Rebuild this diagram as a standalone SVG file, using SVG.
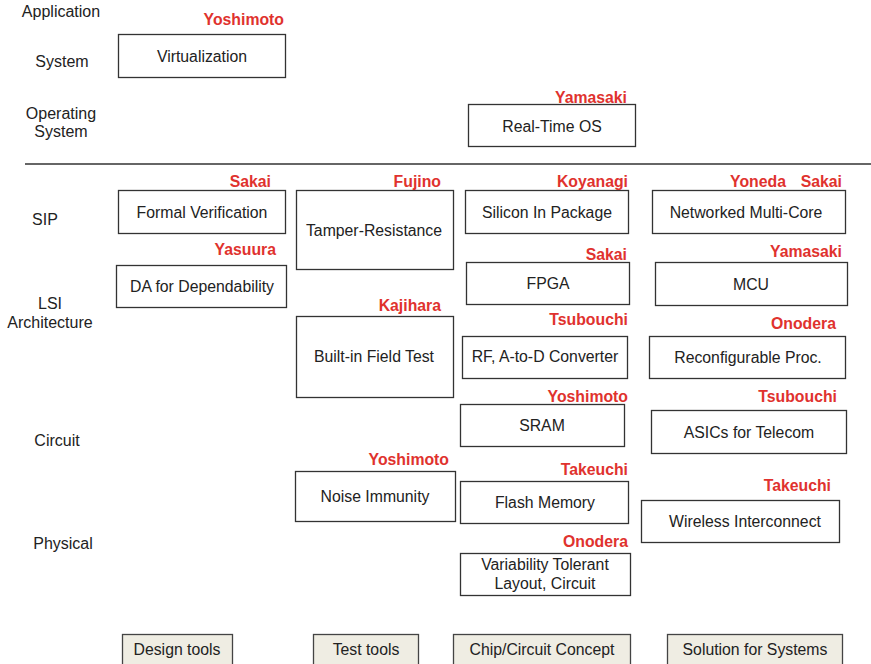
<svg xmlns="http://www.w3.org/2000/svg" width="871" height="664" viewBox="0 0 871 664">
  <style>
    text { font-family: "Liberation Sans", Arial, sans-serif; }
    .box { fill: #ffffff; stroke: #333333; stroke-width: 1.3; }
    .tab { fill: #efede3; stroke: #444444; stroke-width: 1.3; }
    .t { font-size: 15.8px; fill: #222222; text-anchor: middle; }
    .lvl { font-size: 16px; fill: #222222; text-anchor: middle; }
    .who { font-size: 15.8px; font-weight: bold; fill: #e0322e; text-anchor: end; }
  </style>
  <rect width="871" height="664" fill="#ffffff"/>

  <!-- abstraction levels -->
  <g id="levels">
    <text class="lvl" x="61" y="17">Application</text>
    <text class="lvl" x="62" y="67">System</text>
    <text class="lvl" x="61" y="119">Operating</text>
    <text class="lvl" x="61" y="137">System</text>
    <text class="lvl" x="45" y="225">SIP</text>
    <text class="lvl" x="50" y="309">LSI</text>
    <text class="lvl" x="50" y="328">Architecture</text>
    <text class="lvl" x="57" y="446">Circuit</text>
    <text class="lvl" x="63" y="549">Physical</text>
  </g>

  <!-- separator between software and hardware layers -->
  <g id="connectors">
    <line x1="25" y1="164" x2="871" y2="164" stroke="#333333" stroke-width="1.3"/>
  </g>

  <g id="virtualization">
    <rect class="box" x="118.5" y="34.5" width="167" height="43"/>
    <text class="t" x="202" y="62">Virtualization</text>
    <text class="who" x="284" y="25">Yoshimoto</text>
  </g>
  <g id="rtos">
    <rect class="box" x="468.5" y="104.5" width="167" height="42"/>
    <text class="t" x="552" y="132">Real-Time OS</text>
    <text class="who" x="627" y="103">Yamasaki</text>
  </g>

  <g id="formal-verification">
    <rect class="box" x="118.5" y="190.5" width="167" height="43"/>
    <text class="t" x="202" y="218">Formal Verification</text>
    <text class="who" x="271" y="187">Sakai</text>
  </g>
  <g id="tamper-resistance">
    <rect class="box" x="296.5" y="190.5" width="157" height="79"/>
    <text class="t" x="374" y="236">Tamper-Resistance</text>
    <text class="who" x="441" y="187">Fujino</text>
  </g>
  <g id="silicon-in-package">
    <rect class="box" x="465.5" y="190.5" width="163" height="43"/>
    <text class="t" x="547" y="218">Silicon In Package</text>
    <text class="who" x="628" y="187">Koyanagi</text>
  </g>
  <g id="networked-multicore">
    <rect class="box" x="652.5" y="190.5" width="193" height="43"/>
    <text class="t" x="746" y="218">Networked Multi-Core</text>
    <text class="who" x="786" y="187">Yoneda</text>
    <text class="who" x="842" y="187">Sakai</text>
  </g>

  <g id="da-dependability">
    <rect class="box" x="116.5" y="265.5" width="170" height="42"/>
    <text class="t" x="202" y="292">DA for Dependability</text>
    <text class="who" x="276" y="255">Yasuura</text>
  </g>
  <g id="fpga">
    <rect class="box" x="466.5" y="262.5" width="163" height="42"/>
    <text class="t" x="548" y="289">FPGA</text>
    <text class="who" x="627" y="260">Sakai</text>
  </g>
  <g id="mcu">
    <rect class="box" x="655.5" y="262.5" width="192" height="43"/>
    <text class="t" x="751" y="290">MCU</text>
    <text class="who" x="842" y="257">Yamasaki</text>
  </g>

  <g id="built-in-field-test">
    <rect class="box" x="296.5" y="316.5" width="157" height="81"/>
    <text class="t" x="374" y="362">Built-in Field Test</text>
    <text class="who" x="441" y="311">Kajihara</text>
  </g>
  <g id="rf-adc">
    <rect class="box" x="462.5" y="336.5" width="165" height="42"/>
    <text class="t" x="545" y="362">RF, A-to-D Converter</text>
    <text class="who" x="628" y="325">Tsubouchi</text>
  </g>
  <g id="reconfigurable">
    <rect class="box" x="649.5" y="336.5" width="196" height="42"/>
    <text class="t" x="748" y="363">Reconfigurable Proc.</text>
    <text class="who" x="836" y="329">Onodera</text>
  </g>

  <g id="sram">
    <rect class="box" x="460.5" y="404.5" width="164" height="42"/>
    <text class="t" x="542" y="431">SRAM</text>
    <text class="who" x="628" y="402">Yoshimoto</text>
  </g>
  <g id="asics-telecom">
    <rect class="box" x="651.5" y="410.5" width="195" height="43"/>
    <text class="t" x="749" y="438">ASICs for Telecom</text>
    <text class="who" x="837" y="402">Tsubouchi</text>
  </g>

  <g id="noise-immunity">
    <rect class="box" x="295.5" y="471.5" width="160" height="50"/>
    <text class="t" x="375" y="502">Noise Immunity</text>
    <text class="who" x="449" y="465">Yoshimoto</text>
  </g>
  <g id="flash-memory">
    <rect class="box" x="460.5" y="481.5" width="168" height="42"/>
    <text class="t" x="545" y="508">Flash Memory</text>
    <text class="who" x="628" y="475">Takeuchi</text>
  </g>
  <g id="wireless-interconnect">
    <rect class="box" x="641.5" y="500.5" width="198" height="42"/>
    <text class="t" x="745" y="527">Wireless Interconnect</text>
    <text class="who" x="831" y="491">Takeuchi</text>
  </g>

  <g id="variability-tolerant">
    <rect class="box" x="460.5" y="553.5" width="170" height="42"/>
    <text class="t" x="545" y="570">Variability Tolerant</text>
    <text class="t" x="545" y="589">Layout, Circuit</text>
    <text class="who" x="628" y="547">Onodera</text>
  </g>

  <!-- column categories -->
  <g id="design-tools">
    <rect class="tab" x="122.5" y="634.5" width="110" height="32"/>
    <text class="t" x="177" y="655">Design tools</text>
  </g>
  <g id="test-tools">
    <rect class="tab" x="313.5" y="634.5" width="105" height="32"/>
    <text class="t" x="366" y="655">Test tools</text>
  </g>
  <g id="chip-circuit-concept">
    <rect class="tab" x="453.5" y="634.5" width="177" height="32"/>
    <text class="t" x="542" y="655">Chip/Circuit Concept</text>
  </g>
  <g id="solution-systems">
    <rect class="tab" x="667.5" y="634.5" width="175" height="32"/>
    <text class="t" x="755" y="655">Solution for Systems</text>
  </g>
</svg>
